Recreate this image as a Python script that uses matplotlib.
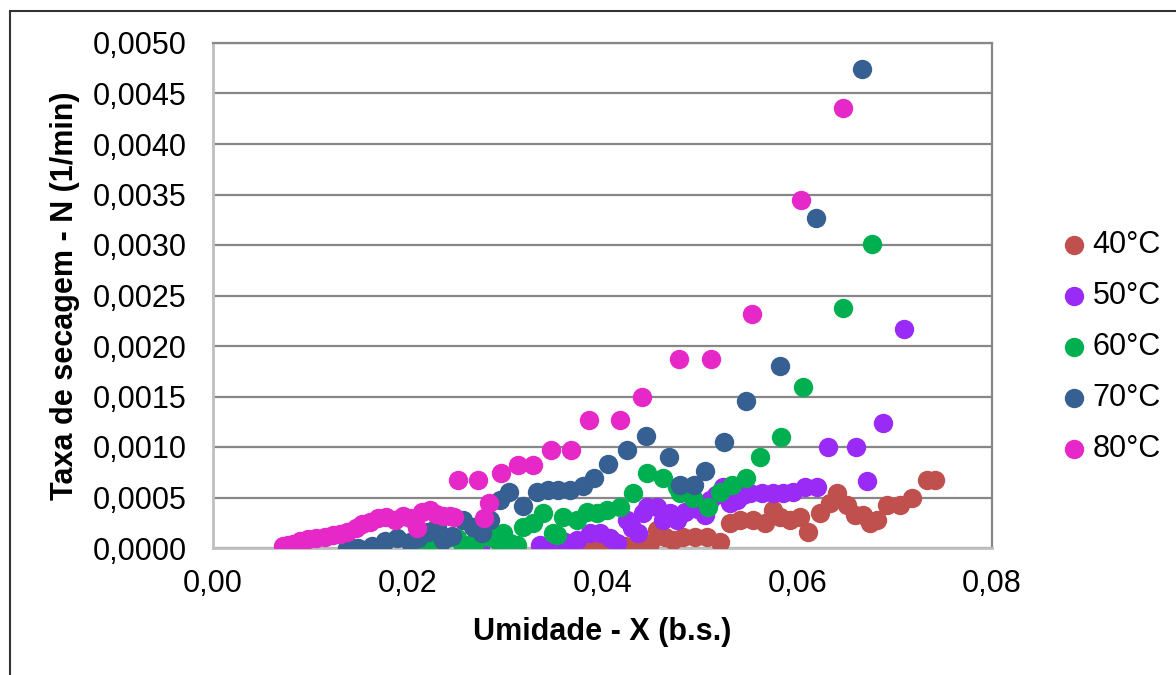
import numpy as np
import matplotlib
matplotlib.use("Agg")
import matplotlib.pyplot as plt
from matplotlib.ticker import FuncFormatter, MultipleLocator
from matplotlib.patches import Rectangle

plt.rcParams['font.family'] = ['Liberation Sans', 'DejaVu Sans']

# 40°C
x40 = [0.0374, 0.0384, 0.0397, 0.0411, 0.0423, 0.0436, 0.0449, 0.0456, 0.0464, 0.0472,
       0.0483, 0.0495, 0.0507, 0.0521, 0.0531, 0.0541, 0.0555, 0.0567, 0.0575, 0.0582,
       0.0593, 0.0603, 0.0611, 0.0623, 0.0634, 0.0641, 0.0651, 0.0659, 0.0668, 0.0675,
       0.0682, 0.0692, 0.0706, 0.0718, 0.0733, 0.0741]
y40 = [0.00000, 0.00000, 0.00005, 0.00005, 0.00002, 0.00005, 0.00005, 0.00018, 0.00011, 0.00008,
       0.00011, 0.00011, 0.00011, 0.00006, 0.00025, 0.00028, 0.00028, 0.00025, 0.00038, 0.00031,
       0.00028, 0.00031, 0.00016, 0.00035, 0.00045, 0.00054, 0.00043, 0.00033, 0.00033, 0.00025,
       0.00028, 0.00043, 0.00043, 0.00050, 0.00067, 0.00067]

# 50°C
x50 = [0.0274, 0.0336, 0.0349, 0.0361, 0.0374, 0.0387, 0.0397, 0.0408, 0.0415, 0.0425,
       0.0430, 0.0436, 0.0442, 0.0446, 0.0456, 0.0462, 0.0469, 0.0477, 0.0485, 0.0493,
       0.0500, 0.0505, 0.0510, 0.0517, 0.0524, 0.0531, 0.0538, 0.0544, 0.0551, 0.0564,
       0.0575, 0.0585, 0.0596, 0.0608, 0.0620, 0.0632, 0.0660, 0.0672, 0.0688, 0.0710]
y50 = [0.00000, 0.00003, 0.00003, 0.00006, 0.00008, 0.00015, 0.00015, 0.00010, 0.00005, 0.00028,
       0.00020, 0.00015, 0.00035, 0.00041, 0.00041, 0.00028, 0.00035, 0.00028, 0.00036, 0.00040,
       0.00038, 0.00033, 0.00048, 0.00052, 0.00060, 0.00045, 0.00048, 0.00052, 0.00054, 0.00054,
       0.00054, 0.00054, 0.00055, 0.00060, 0.00060, 0.00100, 0.00100, 0.00066, 0.00124, 0.00217]

# 60°C
x60 = [0.0220, 0.0233, 0.0243, 0.0251, 0.0257, 0.0267, 0.0271, 0.0284, 0.0292, 0.0298,
       0.0305, 0.0312, 0.0318, 0.0329, 0.0339, 0.0349, 0.0353, 0.0359, 0.0374, 0.0384,
       0.0394, 0.0405, 0.0418, 0.0431, 0.0446, 0.0462, 0.0477, 0.0480, 0.0493, 0.0508,
       0.0521, 0.0533, 0.0547, 0.0562, 0.0583, 0.0606, 0.0647, 0.0677]
y60 = [0.00000, 0.00005, 0.00011, 0.00010, 0.00001, 0.00005, 0.00008, 0.00011, 0.00008, 0.00015,
       0.00005, 0.00003, 0.00021, 0.00025, 0.00035, 0.00015, 0.00013, 0.00031, 0.00028, 0.00036,
       0.00035, 0.00038, 0.00041, 0.00054, 0.00074, 0.00069, 0.00060, 0.00054, 0.00050, 0.00041,
       0.00055, 0.00062, 0.00069, 0.00090, 0.00110, 0.00159, 0.00238, 0.00301]

# 70°C
x70 = [0.0138, 0.0143, 0.0149, 0.0163, 0.0177, 0.0189, 0.0202, 0.0211, 0.0221, 0.0230,
       0.0236, 0.0245, 0.0257, 0.0267, 0.0276, 0.0284, 0.0295, 0.0304, 0.0318, 0.0333,
       0.0344, 0.0354, 0.0367, 0.0380, 0.0391, 0.0406, 0.0425, 0.0445, 0.0468, 0.0480,
       0.0494, 0.0505, 0.0525, 0.0547, 0.0582, 0.0619, 0.0667]
y70 = [0.00000, 0.00000, 0.00000, 0.00002, 0.00007, 0.00010, 0.00006, 0.00010, 0.00016, 0.00021,
       0.00008, 0.00012, 0.00028, 0.00021, 0.00015, 0.00028, 0.00048, 0.00055, 0.00042, 0.00055,
       0.00057, 0.00057, 0.00057, 0.00061, 0.00069, 0.00083, 0.00097, 0.00111, 0.00090, 0.00062,
       0.00062, 0.00076, 0.00105, 0.00146, 0.00180, 0.00327, 0.00474]

# 80°C
x80 = [0.0072, 0.0077, 0.0082, 0.0089, 0.0098, 0.0106, 0.0115, 0.0123, 0.0130, 0.0138,
       0.0147, 0.0153, 0.0161, 0.0169, 0.0178, 0.0187, 0.0195, 0.0202, 0.0210, 0.0215,
       0.0223, 0.0229, 0.0236, 0.0243, 0.0248, 0.0252, 0.0272, 0.0278, 0.0283, 0.0296,
       0.0313, 0.0329, 0.0347, 0.0368, 0.0386, 0.0418, 0.0441, 0.0479, 0.0511, 0.0554,
       0.0604, 0.0647]
y80 = [0.00002, 0.00003, 0.00004, 0.00007, 0.00009, 0.00010, 0.00011, 0.00013, 0.00014, 0.00016,
       0.00020, 0.00024, 0.00026, 0.00030, 0.00031, 0.00028, 0.00032, 0.00030, 0.00020, 0.00036,
       0.00038, 0.00034, 0.00032, 0.00032, 0.00031, 0.00067, 0.00067, 0.00030, 0.00045, 0.00074,
       0.00082, 0.00082, 0.00097, 0.00097, 0.00127, 0.00127, 0.00150, 0.00187, 0.00187, 0.00232,
       0.00345, 0.00436]

labels = ['40°C', '50°C', '60°C', '70°C', '80°C']
colors = ['#C0504D', '#9A2BF6', '#00B050', '#376092', '#E528C7']
series = [(x40, y40), (x50, y50), (x60, y60), (x70, y70), (x80, y80)]

fig = plt.figure(figsize=(11.76, 6.75), dpi=100)
ax = fig.add_axes([213 / 1176, 1 - 548 / 675, 779 / 1176, 505 / 675])

for (xs, ys), c, lab in zip(series, colors, labels):
    ax.scatter(xs, ys, s=195, color=c, linewidths=0, label=lab, zorder=3)

ax.set_xlim(0, 0.08)
ax.set_ylim(0, 0.005)
ax.xaxis.set_major_locator(MultipleLocator(0.02))
ax.yaxis.set_major_locator(MultipleLocator(0.0005))
ax.xaxis.set_major_formatter(FuncFormatter(lambda v, p: f'{v:.2f}'.replace('.', ',')))
ax.yaxis.set_major_formatter(FuncFormatter(lambda v, p: f'{v:.4f}'.replace('.', ',')))
ax.tick_params(axis='both', length=0, labelsize=22)
ax.tick_params(axis='y', pad=19)
ax.tick_params(axis='x', pad=15)

ax.grid(axis='y', color='#878787', linewidth=1.6, zorder=1)
ax.set_axisbelow(True)
for side in ['left', 'bottom']:
    ax.spines[side].set_color('#BFBFBF')
    ax.spines[side].set_linewidth(2)
ax.spines['right'].set_color('#878787')
ax.spines['right'].set_linewidth(1.6)
ax.spines['top'].set_color('#878787')
ax.spines['top'].set_linewidth(1.6)

ax.set_xlabel('Umidade - X (b.s.)', fontsize=22, fontweight='bold')
ax.set_ylabel('Taxa de secagem - N (1/min)', fontsize=22, fontweight='bold')
ax.xaxis.set_label_coords(0.5, -0.137)
ax.yaxis.set_label_coords(-0.171, 0.5)

fig.legend(loc='center left', bbox_to_anchor=(1062 / 1176, 1 - 347 / 675),
           frameon=False, fontsize=22, handlelength=0.8, handletextpad=0.2,
           labelspacing=0.68, borderpad=0, borderaxespad=0, markerscale=1.0)

# outer chart border
fig.patches.append(Rectangle((10 / 1176, -0.1), 1.2, 1 - 11 / 675 + 0.1,
                             transform=fig.transFigure, fill=False,
                             edgecolor='#333333', linewidth=1.5))

fig.savefig('out.png', dpi=100)
